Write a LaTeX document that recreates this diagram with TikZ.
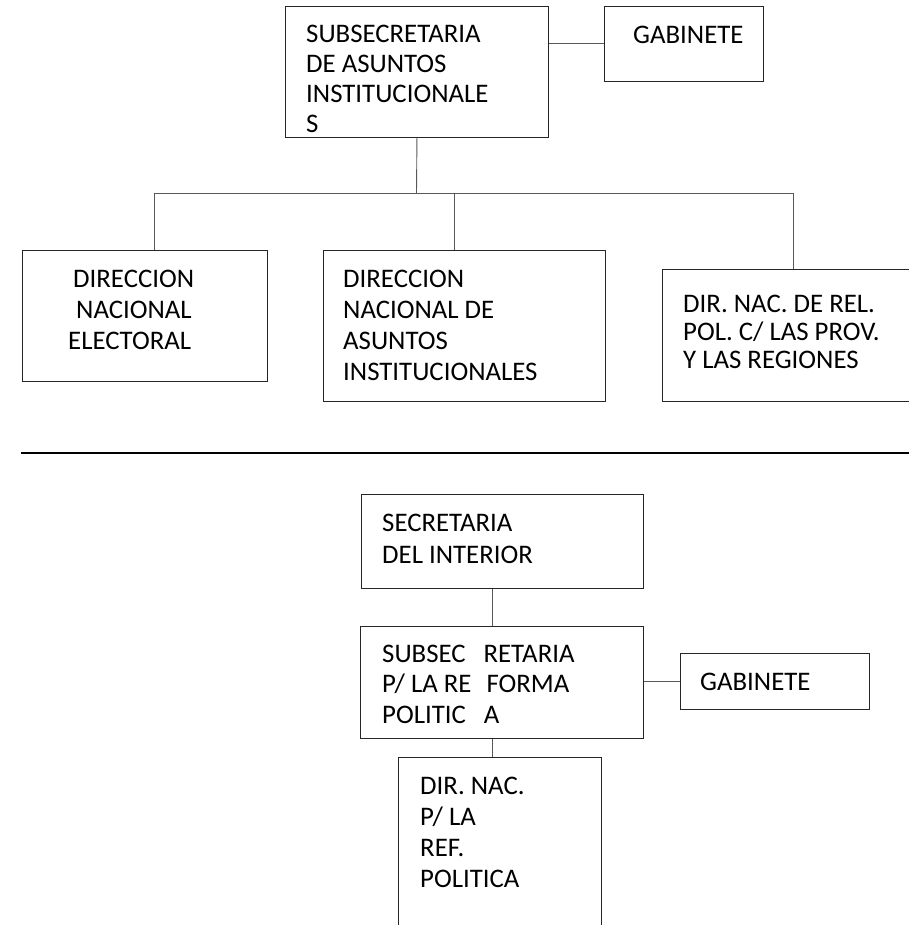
\documentclass[tikz,border=0pt]{standalone}
\usepackage{fontspec}
\setmainfont{Carlito}
% multi-line label whose baseline is the first line's baseline
\newcommand\leftstack[2]{\vtop{\baselineskip=#1\lineskiplimit=-50pt\lineskip=0pt\halign{##\hfil\cr#2\crcr}}}
\begin{document}
\begin{tikzpicture}[x=1pt,y=-1pt,
  box/.style={draw=black!85, line width=0.9pt, inner sep=0pt, anchor=north west},
  link/.style={draw=black!65, line width=0.9pt},
  label/.style={inner sep=0pt, anchor=base west, font=\fontsize{26.8}{30}\selectfont}]
\fill[white] (0,0) rectangle (908,925);
\useasboundingbox (0,0) rectangle (908,925);

% ---- upper chart ----
\node[box, minimum width=263pt, minimum height=131pt] (A) at (285,6) {};
\node[box, minimum width=159pt, minimum height=75pt] (G1) at (604,6) {};
\node[box, minimum width=245pt, minimum height=131pt] (B1) at (22,250) {};
\node[box, minimum width=282pt, minimum height=151pt] (B2) at (323,250) {};
\node[box, minimum width=260pt, minimum height=132pt] (B3) at (662,269) {};

\node[label] (tA) at (306,43) {\leftstack{30pt}{SUBSECRETARIA\cr DE ASUNTOS\cr INSTITUCIONALE\cr S}};
\node[label] (tG1) at (633,44) {GABINETE};
\node[label] (tB1) at (68,287) {\leftstack{31pt}{\hspace{5pt}DIRECCION\cr \hspace{8pt}NACIONAL\cr ELECTORAL}};
\node[label] (tB2) at (343,287) {\leftstack{31pt}{DIRECCION\cr NACIONAL DE\cr ASUNTOS\cr INSTITUCIONALES}};
\node[label] (tB3) at (683,312) {\leftstack{28pt}{DIR. NAC. DE REL.\cr POL. C/ LAS PROV.\cr Y LAS REGIONES}};

\draw[link] (G1.west) -- (G1.west -| A.east);
\coordinate (hub) at (416.5,193);
\coordinate (busL) at (154,193);
\coordinate (busM) at (454,193);
\coordinate (busR) at (793,193);
\draw[link] (A.south) -- (hub);
\draw[link] (busL) -- (busR);
\draw[link] (busL) -- (busL |- B1.north);
\draw[link] (busM) -- (busM |- B2.north);
\draw[link] (busR) -- (busR |- B3.north);

% ---- separator rule ----
\draw[black, line width=1.4pt] (21,453) -- (910,453);

% ---- lower chart ----
\node[box, minimum width=282pt, minimum height=94pt] (C) at (361,494) {};
\node[box, minimum width=283pt, minimum height=112pt] (D) at (360,626) {};
\node[box, minimum width=189pt, minimum height=56pt] (G2) at (680,653) {};
\node[box, minimum width=203pt, minimum height=200pt] (E) at (398,757) {};

\node[label] (tC) at (382,531) {\leftstack{32pt}{SECRETARIA\cr DEL INTERIOR}};
\node[label] (tD) at (382,662) {\leftstack{30.5pt}{SUBSEC\hspace{18pt}RETARIA\cr P/ LA RE\hspace{15pt}FORMA\cr POLITIC\hspace{18pt}A}};
\node[label] (tG2) at (700,690) {GABINETE};
\node[label] (tE) at (420,794) {\leftstack{31pt}{DIR. NAC.\cr P/ LA\cr REF.\cr POLITICA}};

\coordinate (spine) at (492,0);
\draw[link] (spine |- C.south) -- (spine |- D.north);
\draw[link] (spine |- D.south) -- (spine |- E.north);
\draw[link] (G2.west) -- (G2.west -| D.east);
\end{tikzpicture}
\end{document}
